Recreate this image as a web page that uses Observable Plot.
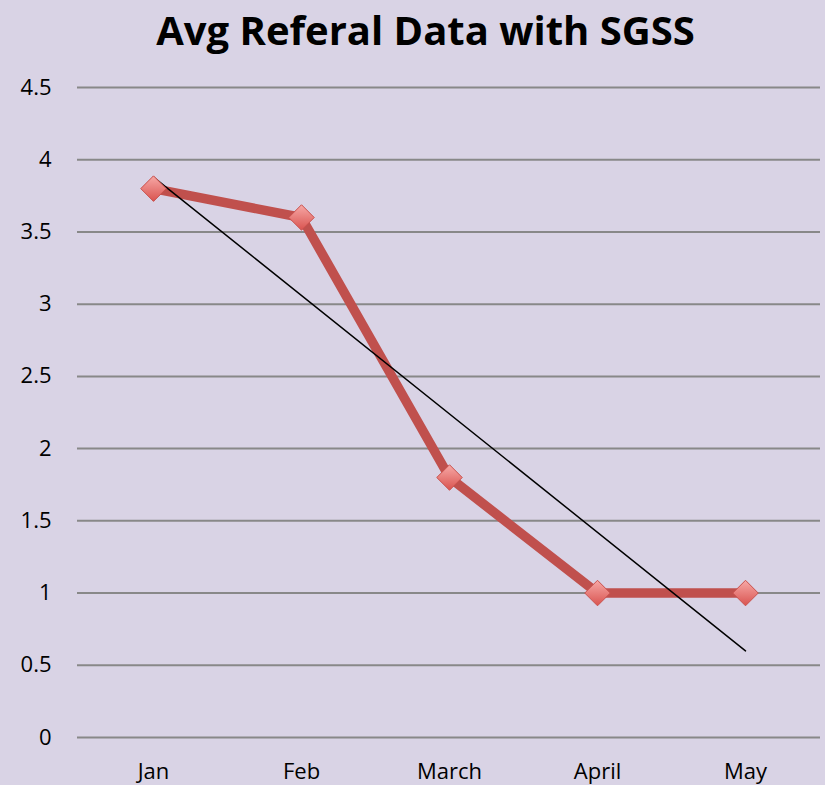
<!DOCTYPE html>
<html>
<head>
<meta charset="utf-8">
<script src="https://cdn.jsdelivr.net/npm/d3@7"></script>
<script src="https://cdn.jsdelivr.net/npm/@observablehq/plot@0.6"></script>
<style>
  html, body { margin: 0; padding: 0; background: #D9D3E5; width: 825px; height: 785px; overflow: hidden; }
  #title { height: 60px; line-height: 60px; text-align: center; padding-left: 26px; font-family: "Open Sans", sans-serif; font-weight: 700; font-size: 40px; color: #000; letter-spacing: 0px; }
  #chart svg { display: block; }
  #chart svg text { font-size: 22px; }
</style>
</head>
<body>
<div id="title">Avg Referal Data with SGSS</div>
<div id="chart"></div>
<script>
const months = ["Jan", "Feb", "March", "April", "May"];
const values = [3.8, 3.6, 1.8, 1, 1];
const yTicks = [0, 0.5, 1, 1.5, 2, 2.5, 3, 3.5, 4, 4.5];

const data = months.map((m, i) => ({month: m, value: values[i]}));

// linear trendline (least squares over month index)
const n = values.length;
const xs = values.map((_, i) => i + 1);
const mx = d3.mean(xs), my = d3.mean(values);
const slope = d3.sum(xs, (x, i) => (x - mx) * (values[i] - my)) / d3.sum(xs, x => (x - mx) ** 2);
const intercept = my - slope * mx;
const trend = [
  {month: months[0], value: intercept + slope * xs[0]},
  {month: months[n - 1], value: intercept + slope * xs[n - 1]}
];

const defs = () => {
  const svg = d3.create("svg:g");
  const d = svg.append("defs");
  const g = d.append("linearGradient").attr("id", "mk").attr("x1", 0).attr("y1", 0).attr("x2", 0).attr("y2", 1);
  g.append("stop").attr("offset", "0%").attr("stop-color", "#F7A9A7");
  g.append("stop").attr("offset", "100%").attr("stop-color", "#D9534F");
  const f = d.append("filter").attr("id", "sh").attr("x", "-50%").attr("y", "-50%").attr("width", "200%").attr("height", "200%");
  f.append("feDropShadow").attr("dx", 0).attr("dy", 2).attr("stdDeviation", 1.5).attr("flood-color", "#000").attr("flood-opacity", 0.3);
  return svg.node();
};

const chart = Plot.plot({
  width: 825,
  height: 725,
  marginTop: 27,
  marginBottom: 48,
  marginLeft: 77,
  marginRight: 5,
  style: {background: "#D9D3E5", fontFamily: "'Open Sans', sans-serif", fontSize: "22px", color: "#000"},
  x: {type: "point", domain: months, padding: 0.5, label: null, tickSize: 0, tickPadding: 26},
  y: {domain: [0, 4.5], ticks: yTicks, label: null, tickSize: 0, tickPadding: 26, tickFormat: d => String(d)},
  marks: [
    defs,
    Plot.ruleY(yTicks, {stroke: "#888888", strokeWidth: 2}),
    Plot.line(data, {x: "month", y: "value", stroke: "#C0504D", strokeWidth: 9.5, strokeLinejoin: "round"}),
    Plot.line(trend, {x: "month", y: "value", stroke: "#000", strokeWidth: 1.5}),
    Plot.dot(data, {x: "month", y: "value", symbol: "diamond2", r: 11.5, fill: "url(#mk)", stroke: "#C9504C", strokeWidth: 1, style: "filter:url(#sh)"})
  ]
});
document.getElementById("chart").appendChild(chart);
</script>
</body>
</html>
